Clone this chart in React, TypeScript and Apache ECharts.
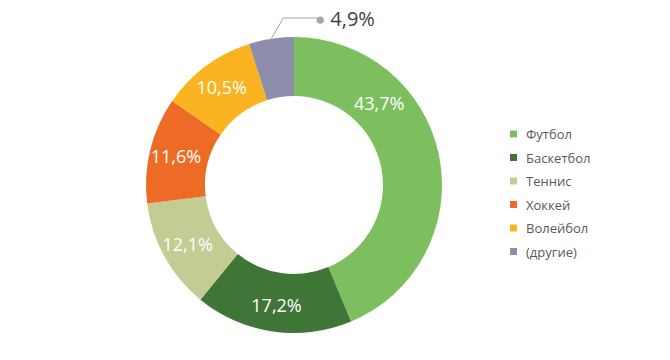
import React, { useEffect, useRef } from "react";
import * as echarts from "echarts";

const categories = ["Футбол", "Баскетбол", "Теннис", "Хоккей", "Волейбол", "(другие)"];
const values = [43.7, 17.2, 12.1, 11.6, 10.5, 4.9];
const colors = ["#7DBE5E", "#3F7537", "#C3CC92", "#EE6B25", "#FBB41F", "#8D8EAC"];

const fmt = (v: number) => v.toFixed(1).replace(".", ",") + "%";

export default function App() {
  const ref = useRef<HTMLDivElement>(null);
  useEffect(() => {
    if (!ref.current) return;
    const chart = echarts.init(ref.current, null, { renderer: "svg" });
    const cx = 294;
    const cy = 185;
    const rIn = 89;
    const rOut = 148;
    const rMid = (rIn + rOut) / 2;
    chart.setOption({
      animation: false,
      backgroundColor: "#ffffff",
      legend: {
        orient: "vertical",
        left: 505,
        top: 121,
        icon: "rect",
        itemWidth: 7,
        itemHeight: 7,
        itemGap: 7.5,
        data: categories,
        textStyle: {
          fontFamily: "Open Sans",
          fontSize: 13,
          color: "#595959",
          lineHeight: 16,
          padding: [0, 0, 0, 4],
        },
      },
      series: [
        {
          type: "pie",
          center: [cx, cy],
          radius: [rIn, rOut],
          startAngle: 90,
          clockwise: true,
          avoidLabelOverlap: false,
          data: categories.map((name, i) => {
            const item: any = {
              name,
              value: values[i],
              itemStyle: { color: colors[i] },
            };
            if (i === categories.length - 1) {
              item.label = {
                position: "outside",
                formatter: (p: any) => "{dot|●}{val|" + fmt(p.value) + "}",
                rich: {
                  dot: { color: "#A6A6A6", fontSize: 17, padding: [0, 5, 0, 0] },
                  val: { color: "#404040", fontSize: 20, fontFamily: "Open Sans" },
                },
              };
              item.labelLine = {
                show: true,
                lineStyle: { color: "#A6A6A6", width: 1 },
              };
            }
            return item;
          }),
          label: {
            show: true,
            position: "inside",
            color: "#ffffff",
            fontFamily: "Open Sans",
            fontSize: 18,
            formatter: (p: any) => fmt(p.value),
          },
          labelLine: { show: false },
          labelLayout: (p: any) => {
            if (p.dataIndex === 0) {
              const a = (46 * Math.PI) / 180;
              return { x: cx + rMid * Math.sin(a), y: cy - rMid * Math.cos(a), align: "center", verticalAlign: "middle" };
            }
            if (p.dataIndex === categories.length - 1 && p.labelLinePoints) {
              const p0 = p.labelLinePoints[0];
              const ly = 18;
              return {
                x: 315,
                y: ly,
                align: "left",
                verticalAlign: "middle",
                labelLinePoints: [p0, [p0[0] + 12, ly], [318, ly]],
              };
            }
            return {};
          },
        },
      ],
    });
    return () => chart.dispose();
  }, []);
  return <div ref={ref} style={{ position: "fixed", left: 0, top: 0, width: 670, height: 360 }} />;
}
